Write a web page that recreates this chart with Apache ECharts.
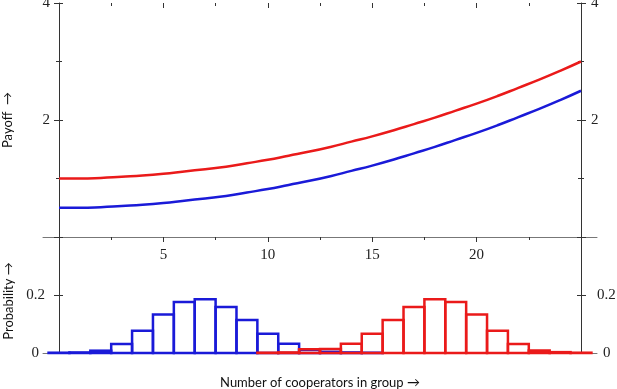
<!DOCTYPE html>
<html>
<head>
<meta charset="utf-8">
<script src="https://cdn.jsdelivr.net/npm/echarts@6/dist/echarts.min.js"></script>
<style>
  html, body { margin: 0; padding: 0; background: #fff; }
  #chart { width: 617px; height: 389px; }
</style>
</head>
<body>
<div id="chart"></div>
<script>
// payoff curves, read at each group size 0..25
const groupSize = [0, 1, 2, 3, 4, 5, 6, 7, 8, 9, 10, 11, 12, 13, 14, 15, 16, 17, 18, 19, 20, 21, 22, 23, 24, 25]
const payoffRed = [1.00, 1.00, 1.01, 1.03, 1.05, 1.08, 1.12, 1.16, 1.20, 1.26, 1.32, 1.39, 1.46, 1.54, 1.63, 1.72, 1.82, 1.93, 2.04, 2.16, 2.28, 2.41, 2.55, 2.69, 2.84, 3.00]
const payoffBlue = [0.50, 0.50, 0.51, 0.53, 0.55, 0.58, 0.62, 0.66, 0.70, 0.76, 0.82, 0.89, 0.96, 1.04, 1.13, 1.22, 1.32, 1.43, 1.54, 1.66, 1.78, 1.91, 2.05, 2.19, 2.34, 2.50]

// histograms (bin centre -> probability)
const blueBins = [0, 1, 2, 3, 4, 5, 6, 7, 8, 9, 10, 11, 12, 13, 14, 15]
const blueProb = [0.001, 0.002, 0.008, 0.031, 0.077, 0.133, 0.176, 0.185, 0.159, 0.114, 0.066, 0.032, 0.011, 0.004, 0.002, 0.001]
const redBins = [10, 11, 12, 13, 14, 15, 16, 17, 18, 19, 20, 21, 22, 23, 24, 25]
const redProb = [0.001, 0.002, 0.013, 0.014, 0.032, 0.066, 0.114, 0.159, 0.185, 0.176, 0.133, 0.077, 0.031, 0.009, 0.003, 0.001]

const RED = '#ea1a1a'
const BLUE = '#1a1ad8'
const AXIS = '#333'
const serif = 'Liberation Serif'
const sans = 'Lato'

const chart = echarts.init(document.getElementById('chart'))

function pairs(xs, ys) {
	return xs.map((x, i) => [x, ys[i]])
}

// y axis, either the labelled one (ticks outside) or the twin that only draws inner ticks
// range: [min, max, interval, minor split, hide max label, hide zero label]
function yAx(grid, pos, inner, range, margin, extra) {
	return Object.assign({
		type: 'value',
		gridIndex: grid,
		position: pos,
		min: range[0],
		max: range[1],
		interval: range[2],
		axisLine: { show: !inner, onZero: false, lineStyle: { color: AXIS, width: 1 } },
		axisTick: { show: true, inside: inner, length: inner ? 4 : 5, lineStyle: { color: AXIS } },
		minorTick: { show: range[3] > 0, splitNumber: range[3] || 1, length: 3, lineStyle: { color: AXIS } },
		axisLabel: {
			show: !inner,
			margin: margin || 9,
			fontFamily: serif,
			fontSize: 15,
			color: '#222',
			formatter: function(v) {
				if ((v === range[1] && range[4]) || (v === 0 && range[5])) return ''
				// the zero of the probability axis sits a little further out
				if (v === 0) return '{z|0}'
				return String(v)
			},
			rich: {
				z: {
					fontFamily: serif,
					fontSize: 15,
					color: '#222',
					padding: pos === 'left' ? [0, 6, 0, 0] : [0, 0, 0, 6]
				}
			}
		},
		splitLine: { show: false }
	}, extra || {})
}

function hist(xs, ys, color, name) {
	return {
		name: name,
		type: 'custom',
		xAxisIndex: 4,
		yAxisIndex: 4,
		clip: false,
		data: pairs(xs, ys),
		renderItem: function(params, api) {
			const x = api.value(0)
			const p0 = api.coord([x - 0.5, api.value(1)])
			const p1 = api.coord([x + 0.5, 0])
			return {
				type: 'rect',
				shape: { x: p0[0], y: p0[1], width: p1[0] - p0[0], height: p1[1] - p0[1] },
				style: { fill: 'none', stroke: color, lineWidth: 2.5 }
			}
		}
	}
}

const option = {
	animation: false,
	grid: [
		{ left: 59, right: 36, top: 3, height: 234, outerBoundsMode: 'none' }, // payoff panel
		{ left: 43, right: 20, top: 3, height: 234, outerBoundsMode: 'none' }, // long top axis line
		{ left: 59, right: 36, top: 237, height: 116, outerBoundsMode: 'none' }, // probability panel
		{ left: 43, right: 20, top: 237, height: 116, outerBoundsMode: 'none' } // long bottom axis line
	],
	xAxis: [
		{
			type: 'value', gridIndex: 0, min: 0, max: 25, interval: 5,
			axisLine: { show: false, onZero: false },
			axisTick: { show: true, length: 5, lineStyle: { color: AXIS } },
			minorTick: { show: true, splitNumber: 2, length: 3, lineStyle: { color: AXIS } },
			axisLabel: {
				margin: 11, fontFamily: serif, fontSize: 15, color: '#222',
				formatter: v => (v === 0 || v === 25 ? '' : String(v))
			},
			splitLine: { show: false }
		},
		{
			type: 'value', gridIndex: 0, min: 0, max: 25, interval: 5,
			axisLine: { show: false, onZero: false },
			axisTick: { show: true, inside: true, length: 5, lineStyle: { color: AXIS } },
			minorTick: { show: true, splitNumber: 2, length: 3, lineStyle: { color: AXIS } },
			axisLabel: { show: false },
			splitLine: { show: false }
		},
		{
			type: 'value', gridIndex: 1, min: 0, max: 1,
			axisLine: { onZero: false, lineStyle: { color: '#777', width: 1 } },
			axisTick: { show: false }, axisLabel: { show: false }, splitLine: { show: false }
		},
		{
			type: 'value', gridIndex: 3, min: 0, max: 1,
			axisLine: { onZero: false, lineStyle: { color: '#777', width: 1 } },
			axisTick: { show: false }, axisLabel: { show: false }, splitLine: { show: false },
			name: 'Number of cooperators in group \u2192',
			nameLocation: 'middle',
			nameGap: 23,
			nameTextStyle: { fontFamily: sans, fontSize: 13, color: '#111' }
		},
		{ type: 'value', gridIndex: 2, min: 0, max: 25, show: false }
	],
	yAxis: [
		yAx(0, 'left', false, [0, 4, 2, 2, false, true], 9, {
			name: 'Payoff  \u2192',
			nameLocation: 'middle',
			nameGap: 45,
			nameRotate: 90,
			nameTextStyle: { fontFamily: sans, fontSize: 13, color: '#111' }
		}),
		yAx(0, 'left', true, [0, 4, 2, 2]),
		yAx(0, 'right', false, [0, 4, 2, 2, false, true], 10),
		yAx(0, 'right', true, [0, 4, 2, 2]),
		yAx(2, 'left', false, [0, 0.4, 0.2, 0, true, false], 14, {
			name: 'Probability \u2192',
			nameLocation: 'middle',
			nameGap: 42,
			nameRotate: 90,
			nameTextStyle: { fontFamily: sans, fontSize: 13, color: '#111', padding: [0, 0, 0, -12] }
		}),
		yAx(2, 'left', true, [0, 0.4, 0.2, 0]),
		yAx(2, 'right', false, [0, 0.4, 0.2, 0, true, false], 16),
		yAx(2, 'right', true, [0, 0.4, 0.2, 0]),
		{ type: 'value', gridIndex: 1, show: false },
		{ type: 'value', gridIndex: 3, show: false }
	],
	series: [
		{
			name: 'payoff blue',
			type: 'line',
			xAxisIndex: 0,
			yAxisIndex: 0,
			smooth: true,
			showSymbol: false,
			data: pairs(groupSize, payoffBlue),
			lineStyle: { color: BLUE, width: 2.5 }
		},
		{
			name: 'payoff red',
			type: 'line',
			xAxisIndex: 0,
			yAxisIndex: 0,
			smooth: true,
			showSymbol: false,
			data: pairs(groupSize, payoffRed),
			lineStyle: { color: RED, width: 2.5 }
		},
		hist(blueBins, blueProb, BLUE, 'prob blue'),
		hist(redBins, redProb, RED, 'prob red')
	]
}
chart.setOption(option)
</script>
</body>
</html>
